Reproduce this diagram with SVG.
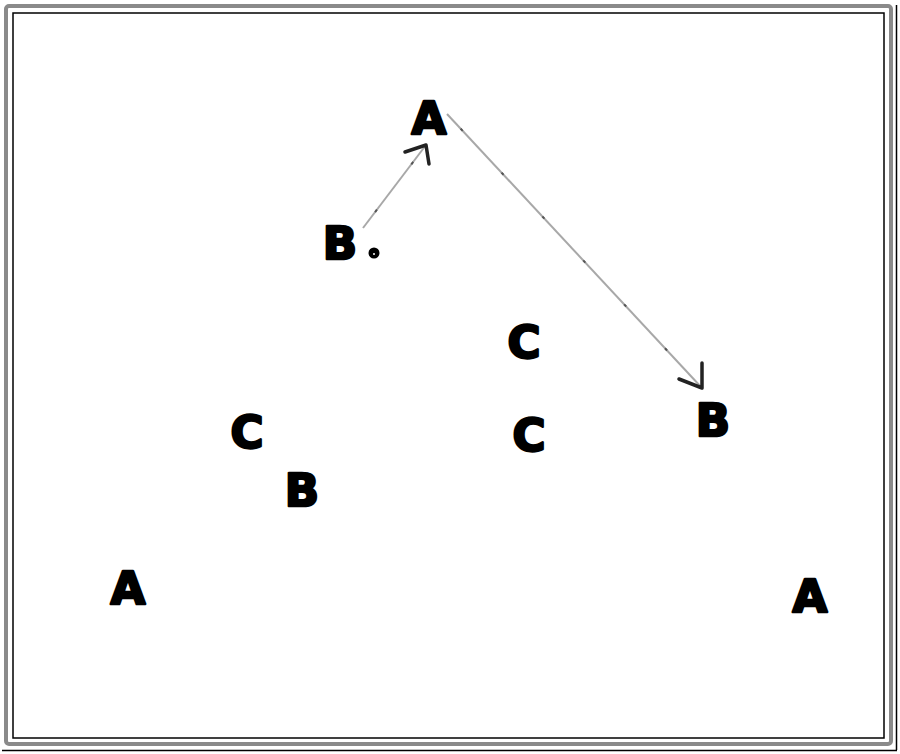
<svg xmlns="http://www.w3.org/2000/svg" width="900" height="754" viewBox="0 0 900 754">
<style>
.lbl{font-family:"DejaVu Sans","Liberation Sans",sans-serif;font-weight:bold;font-size:45px;fill:#000;stroke:#000;stroke-width:2.5;stroke-linejoin:round;text-anchor:middle}
.edge{stroke:#a8a8a8;stroke-width:2;fill:none}
.tick{stroke:#555;stroke-width:2;fill:none;stroke-dasharray:3 57}
.head{stroke:#222;stroke-width:3.5;fill:none;stroke-linecap:round;stroke-linejoin:round}
</style>
<rect width="900" height="754" fill="#fff"/>
<g id="frame">
<rect x="6" y="6" width="885" height="738" rx="3" fill="none" stroke="#8a8a8a" stroke-width="4"/>
<rect x="13" y="13" width="871" height="725" fill="none" stroke="#000" stroke-width="1.5"/>
<line x1="896.5" y1="5" x2="896.5" y2="750" stroke="#000" stroke-width="1.5"/>
<line x1="2" y1="750.5" x2="897" y2="750.5" stroke="#000" stroke-width="1.5"/>
</g>
<g id="connectors">
<g id="e1">
<line class="edge" x1="363" y1="228" x2="426" y2="145"/>
<line class="tick" x1="363" y1="228" x2="426" y2="145" stroke-dashoffset="-20"/>
<polyline class="head" points="405,152 426,145 429,164"/>
</g>
<g id="e2">
<line class="edge" x1="447" y1="114" x2="702" y2="388"/>
<line class="tick" x1="447" y1="114" x2="702" y2="388" stroke-dashoffset="-20"/>
<polyline class="head" points="679,379 702,388 702,363"/>
</g>
</g>
<g id="n1"><text class="lbl" x="429" y="134">A</text></g>
<g id="n2"><text class="lbl" x="340" y="259">B</text><circle cx="374" cy="253" r="5.5" fill="#000"/><circle cx="374" cy="254" r="1" fill="#fff"/></g>
<g id="n3"><text class="lbl" x="524" y="358">C</text></g>
<g id="n4"><text class="lbl" x="713" y="436">B</text></g>
<g id="n5"><text class="lbl" x="247" y="448">C</text></g>
<g id="n6"><text class="lbl" x="529" y="451">C</text></g>
<g id="n7"><text class="lbl" x="302" y="506">B</text></g>
<g id="n8"><text class="lbl" x="128" y="604">A</text></g>
<g id="n9"><text class="lbl" x="810" y="612">A</text></g>
</svg>
